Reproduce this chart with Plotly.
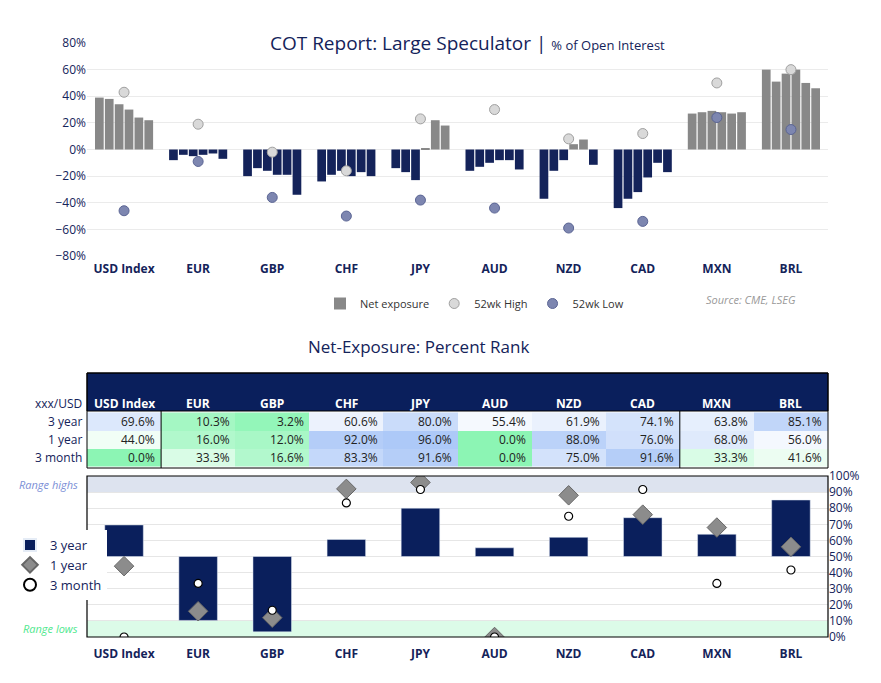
import plotly.graph_objects as go

cats = ["USD Index", "EUR", "GBP", "CHF", "JPY", "AUD", "NZD", "CAD", "MXN", "BRL"]
# net exposure, 6 weekly observations per currency (% of OI)
net = [
    [39, 38, 34, 30, 24, 22],
    [-8, -4, -5, -4, -3, -7],
    [-20, -14, -16, -19, -19, -34],
    [-24, -19, -16, -20, -17, -20],
    [-14, -17, -23, 1, 22, 18],
    [-16, -13, -10, -8, -8, -15],
    [-37, -16, -8, 4, 7.5, -11.5],
    [-44, -37, -32, -21, -10, -17],
    [27, 28, 29, 28, 27, 28],
    [60, 51, 57, 60, 50, 46],
]
high52 = [43, 19, -2, -16, 23, 30, 8, 12, 50, 60]
low52 = [-46, -9, -36, -50, -38, -44, -59, -54, 24, 15]

rows = ["3 year", "1 year", "3 month"]
rank3y = [69.6, 10.3, 3.2, 60.6, 80.0, 55.4, 61.9, 74.1, 63.8, 85.1]
rank1y = [44.0, 16.0, 12.0, 92.0, 96.0, 0.0, 88.0, 76.0, 68.0, 56.0]
rank3m = [0.0, 33.3, 16.6, 83.3, 91.6, 0.0, 75.0, 91.6, 33.3, 41.6]

NAVY = "#14235a"
GRAY = "#888888"
OFF = 8.0
W = 881.0 - OFF - 4
H = 683.0 - OFF - 4
def py(p):
    return 1 - (p - OFF) / H
def px(p):
    return (p - OFF) / W

fig = go.Figure()
xdom = [px(87), px(828)]

# --- top chart
for k in range(6):
    vals = [net[i][k] for i in range(len(cats))]
    fig.add_trace(go.Bar(
        x=cats, y=vals, name="Net exposure", legendgroup="net", showlegend=(k == 0),
        marker=dict(color=[GRAY if v >= 0 else NAVY for v in vals], line=dict(width=0)),
        xaxis="x", yaxis="y", legend="legend",
    ))
fig.add_trace(go.Scatter(x=cats, y=high52, mode="markers", name="52wk High",
    marker=dict(size=10, color="#d9d9d9", line=dict(color="#a0a0a0", width=1)),
    xaxis="x", yaxis="y", legend="legend"))
fig.add_trace(go.Scatter(x=cats, y=low52, mode="markers", name="52wk Low",
    marker=dict(size=10, color="#7d86b0", line=dict(color="#5b6594", width=1)),
    xaxis="x", yaxis="y", legend="legend"))

# --- table heatmap
fig.add_trace(go.Heatmap(
    x=cats, y=rows, z=[rank3y, rank1y, rank3m], zmin=0, zmax=100,
    colorscale=[[0, "#8cf5b4"], [0.5, "#ffffff"], [1, "#a6c4f7"]],
    showscale=False, hoverinfo="skip", xaxis="x3", yaxis="y3"))

# --- bottom chart
fig.add_trace(go.Bar(x=cats, y=[v - 50 for v in rank3y], base=50, name="3 year",
    marker=dict(color="#0a1f5c"), width=0.52, xaxis="x2", yaxis="y2", legend="legend2"))
fig.add_trace(go.Scatter(x=cats, y=rank1y, mode="markers", name="1 year",
    marker=dict(symbol="diamond", size=15, color="#8c8c8c", line=dict(color="#666", width=1)),
    xaxis="x2", yaxis="y2", legend="legend2"))
fig.add_trace(go.Scatter(x=cats, y=rank3m, mode="markers", name="3 month",
    marker=dict(symbol="circle", size=8, color="white", line=dict(color="black", width=1.2)),
    xaxis="x2", yaxis="y2", legend="legend2"))

ann = []
ann.append(dict(xref="paper", yref="paper", x=px(467), y=py(28), showarrow=False,
    text="<span style='font-size:19px'>COT Report: Large Speculator</span> | <span style='font-size:13px'>% of Open Interest</span>",
    font=dict(color=NAVY, size=19, family="Open Sans")))
ann.append(dict(xref="paper", yref="paper", x=px(798), y=py(299), showarrow=False, xanchor="right",
    text="<i>Source: CME, LSEG</i>", font=dict(color="#999999", size=11)))
ann.append(dict(xref="paper", yref="paper", x=px(418), y=py(347), showarrow=False,
    text="Net-Exposure: Percent Rank", font=dict(color=NAVY, size=17)))
ann.append(dict(xref="paper", yref="paper", x=px(84), y=py(403), showarrow=False, xanchor="right",
    text="xxx/USD", font=dict(color=NAVY, size=12)))
for j, r in enumerate(rows):
    ann.append(dict(xref="paper", yref="y3", x=px(84), y=r, showarrow=False,
        xanchor="right", text=r, font=dict(color=NAVY, size=12)))
for i, c in enumerate(cats):
    ann.append(dict(xref="x3", yref="paper", x=i, y=py(403), showarrow=False,
        text="<b>%s</b>" % c, font=dict(color="white", size=12)))
    for j, arr in enumerate([rank3y, rank1y, rank3m]):
        ann.append(dict(xref="x3", yref="y3", x=i + 0.45, y=rows[j], showarrow=False, xanchor="right",
            text="%.1f%%" % arr[i], font=dict(color="#222222", size=12)))
ann.append(dict(xref="paper", yref="y2", x=px(80), y=95, showarrow=False, xanchor="right",
    text="<i>Range highs</i>", font=dict(color="#7b8fd6", size=11)))
ann.append(dict(xref="paper", yref="y2", x=px(80), y=5, showarrow=False, xanchor="right",
    text="<i>Range lows</i>", font=dict(color="#4fe88e", size=11)))

shapes = [
    dict(type="rect", xref="paper", yref="paper", x0=px(87), x1=px(828), y0=py(411), y1=py(373),
         fillcolor="#0a1f5c", line=dict(color="black", width=1), layer="above"),
    dict(type="rect", xref="paper", yref="paper", x0=px(87), x1=px(828), y0=py(468), y1=py(373),
         line=dict(color="black", width=1)),
    dict(type="line", xref="x3", yref="paper", x0=0.5, x1=0.5, y0=py(468), y1=py(411), line=dict(color="black", width=1)),
    dict(type="line", xref="x3", yref="paper", x0=7.5, x1=7.5, y0=py(468), y1=py(411), line=dict(color="black", width=1)),
    dict(type="rect", xref="x2 domain", yref="y2", x0=0, x1=1, y0=90, y1=100,
         fillcolor="#dde3ef", line=dict(width=0), layer="below"),
    dict(type="rect", xref="x2 domain", yref="y2", x0=0, x1=1, y0=0, y1=10,
         fillcolor="#dcfbe8", line=dict(width=0), layer="below"),
    dict(type="rect", xref="x2 domain", yref="y2 domain", x0=0, x1=1, y0=0, y1=1,
         line=dict(color="black", width=1.2)),
]

tickfont = dict(color=NAVY, size=12)
boldcats = dict(tickmode="array", tickvals=cats, ticktext=["<b>%s</b>" % c for c in cats])
fig.update_layout(
    width=int(W), height=int(H), margin=dict(l=0, r=0, t=0, b=0, autoexpand=False),
    paper_bgcolor="white", plot_bgcolor="white",
    font=dict(family="Open Sans, DejaVu Sans", color=NAVY),
    barmode="group", bargap=0.2, bargroupgap=0.12,
    xaxis=dict(domain=xdom, anchor="y", showgrid=False, tickfont=dict(color=NAVY, size=12),
               ticklabelstandoff=4, range=[-0.5, 9.5], **boldcats),
    yaxis=dict(domain=[py(256), py(43)], range=[-80, 80], dtick=20, ticksuffix="%",
               gridcolor="#ebebeb", zeroline=False, tickfont=tickfont),
    xaxis3=dict(domain=xdom, anchor="y3", showticklabels=False, showgrid=False, range=[-0.5, 9.5]),
    yaxis3=dict(domain=[py(468), py(411)], anchor="x3", showticklabels=False, showgrid=False,
                autorange="reversed"),
    xaxis2=dict(domain=xdom, anchor="y2", showgrid=False, range=[-0.5, 9.5],
                tickfont=dict(color=NAVY, size=12), ticklabelstandoff=8, **boldcats),
    yaxis2=dict(domain=[py(637), py(476)], anchor="x2", side="right", range=[0, 100], dtick=10,
                ticksuffix="%", gridcolor="#e6e6e6", zeroline=False, tickfont=tickfont),
    legend=dict(orientation="h", x=px(320), y=py(289), xanchor="left", yanchor="top",
                font=dict(size=11, color="#333"), itemwidth=30),
    legend2=dict(x=px(10), y=py(530), yanchor="top", font=dict(size=13, color=NAVY), tracegroupgap=0,
                 itemsizing="constant", itemwidth=30),
    annotations=ann, shapes=shapes,
)
fig.write_html("out.html")
